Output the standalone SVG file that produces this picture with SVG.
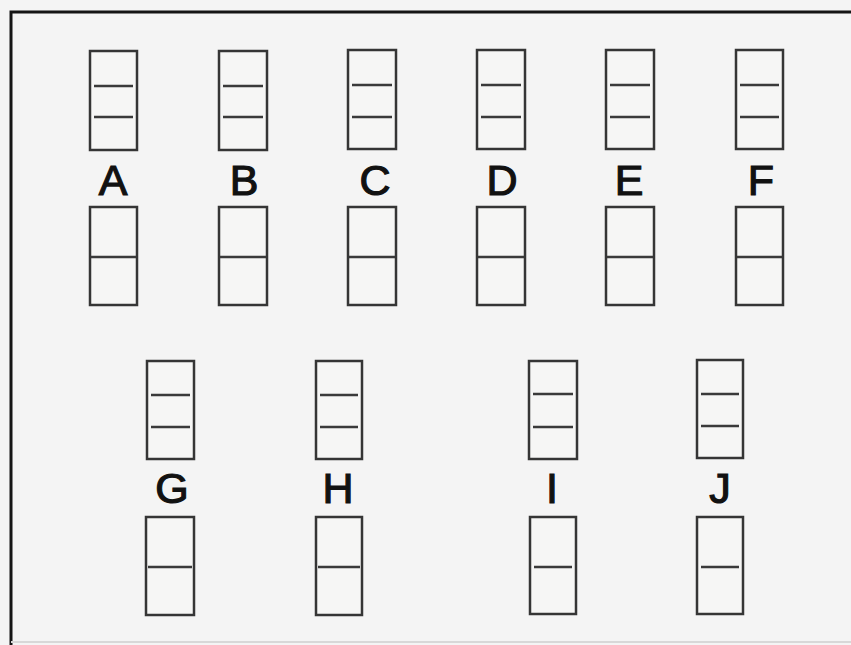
<svg xmlns="http://www.w3.org/2000/svg" width="851" height="645" viewBox="0 0 851 645">
<defs>
<style>
.frame{stroke:#151515;stroke-width:3;fill:none}
.box{fill:#f6f6f5;stroke:#353535;stroke-width:2.5}
.band{stroke:#3a3a3a;stroke-width:2.5}
.lbl{font-family:"Liberation Sans",Arial,sans-serif;font-size:43px;fill:#111;stroke:#111;stroke-width:1.2;text-anchor:middle}
</style>
</defs>
<rect x="0" y="0" width="851" height="645" fill="#f4f4f4"/>
<g id="frame">
<path class="frame" d="M11 645 V12 H851"/>
<path d="M11 642 H851" stroke="#d8d8d8" stroke-width="2" fill="none"/>
</g>
<g id="connectors"></g>

<g id="A">
<rect class="box" x="90" y="51" width="47" height="99"/>
<line class="band" x1="94" y1="86" x2="133" y2="86"/>
<line class="band" x1="94" y1="117" x2="133" y2="117"/>
<text class="lbl" x="113" y="195">A</text>
<rect class="box" x="90" y="207" width="47" height="98"/>
<line class="band" x1="91" y1="257" x2="136" y2="257"/>
</g>
<g id="B">
<rect class="box" x="219" y="51" width="48" height="99"/>
<line class="band" x1="223" y1="86" x2="263" y2="86"/>
<line class="band" x1="223" y1="117" x2="263" y2="117"/>
<text class="lbl" x="244" y="195">B</text>
<rect class="box" x="219" y="207" width="48" height="98"/>
<line class="band" x1="220" y1="257" x2="266" y2="257"/>
</g>
<g id="C">
<rect class="box" x="348" y="50" width="48" height="99"/>
<line class="band" x1="352" y1="85" x2="392" y2="85"/>
<line class="band" x1="352" y1="117" x2="392" y2="117"/>
<text class="lbl" x="375" y="195">C</text>
<rect class="box" x="348" y="207" width="48" height="98"/>
<line class="band" x1="349" y1="257" x2="395" y2="257"/>
</g>
<g id="D">
<rect class="box" x="477" y="50" width="48" height="99"/>
<line class="band" x1="481" y1="85" x2="521" y2="85"/>
<line class="band" x1="481" y1="117" x2="521" y2="117"/>
<text class="lbl" x="502" y="195">D</text>
<rect class="box" x="477" y="207" width="48" height="98"/>
<line class="band" x1="478" y1="257" x2="524" y2="257"/>
</g>
<g id="E">
<rect class="box" x="606" y="50" width="48" height="99"/>
<line class="band" x1="610" y1="85" x2="650" y2="85"/>
<line class="band" x1="610" y1="117" x2="650" y2="117"/>
<text class="lbl" x="629" y="195">E</text>
<rect class="box" x="606" y="207" width="48" height="98"/>
<line class="band" x1="607" y1="257" x2="653" y2="257"/>
</g>
<g id="F">
<rect class="box" x="736" y="50" width="47" height="99"/>
<line class="band" x1="740" y1="85" x2="779" y2="85"/>
<line class="band" x1="740" y1="117" x2="779" y2="117"/>
<text class="lbl" x="761" y="195">F</text>
<rect class="box" x="736" y="207" width="47" height="98"/>
<line class="band" x1="737" y1="257" x2="782" y2="257"/>
</g>

<g id="G">
<rect class="box" x="147" y="361" width="47" height="98"/>
<line class="band" x1="151" y1="395" x2="190" y2="395"/>
<line class="band" x1="151" y1="427" x2="190" y2="427"/>
<text class="lbl" x="172" y="503">G</text>
<rect class="box" x="146" y="517" width="48" height="98"/>
<line class="band" x1="148" y1="567" x2="192" y2="567"/>
</g>
<g id="H">
<rect class="box" x="316" y="361" width="46" height="98"/>
<line class="band" x1="320" y1="395" x2="358" y2="395"/>
<line class="band" x1="320" y1="427" x2="358" y2="427"/>
<text class="lbl" x="338" y="503">H</text>
<rect class="box" x="316" y="517" width="46" height="98"/>
<line class="band" x1="318" y1="567" x2="360" y2="567"/>
</g>
<g id="I">
<rect class="box" x="529" y="361" width="48" height="98"/>
<line class="band" x1="533" y1="394" x2="573" y2="394"/>
<line class="band" x1="533" y1="427" x2="573" y2="427"/>
<text class="lbl" x="552" y="503">I</text>
<rect class="box" x="530" y="517" width="46" height="97"/>
<line class="band" x1="534" y1="567" x2="572" y2="567"/>
</g>
<g id="J">
<rect class="box" x="697" y="360" width="46" height="98"/>
<line class="band" x1="701" y1="394" x2="739" y2="394"/>
<line class="band" x1="701" y1="426" x2="739" y2="426"/>
<text class="lbl" x="720" y="503">J</text>
<rect class="box" x="697" y="517" width="46" height="97"/>
<line class="band" x1="701" y1="567" x2="739" y2="567"/>
</g>
</svg>
